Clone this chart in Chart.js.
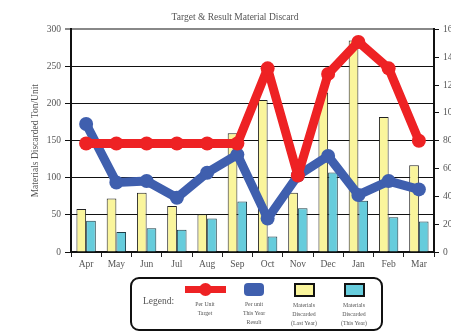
<!DOCTYPE html>
<html>
<head>
<meta charset="utf-8">
<script src="https://cdn.jsdelivr.net/npm/chart.js@4/dist/chart.umd.min.js"></script>
<style>
  body { margin: 0; overflow: hidden; background: #fff; }
  #wrap { position: relative; width: 451px; height: 335px; overflow: hidden; }
  #chart { position: absolute; left: 0; top: 0; }
  #legend {
    position: absolute; left: 130px; top: 277px; width: 249px; height: 50px;
    border: 2px solid #111; border-radius: 9px;
    font-family: "Liberation Serif", serif; color: #555;
  }
  #legend .lbl { position: absolute; left: 11px; top: 17px; font-size: 9.5px; }
  .item { position: absolute; top: 4px; width: 50px; text-align: center; font-size: 5.8px; line-height: 9px; }
  .item .txt { margin-top: 4px; }
  .sw { margin: 0 auto; }
</style>
</head>
<body>
<div id="wrap">
  <canvas id="chart"></canvas>
  <div id="legend">
    <span class="lbl">Legend:</span>
    <div class="item" style="left:48px">
      <div class="sw" style="position:relative;width:41px;height:13px">
        <div style="position:absolute;left:0;top:3px;width:41px;height:7px;background:#ee2224"></div>
        <div style="position:absolute;left:14px;top:0;width:13px;height:13px;border-radius:50%;background:#ee2224"></div>
      </div>
      <div class="txt">Per Unit<br>Target</div>
    </div>
    <div class="item" style="left:97px">
      <div class="sw" style="width:20px;height:13px;border-radius:4px;background:#3f5fae"></div>
      <div class="txt">Per unit<br>This Year<br>Result</div>
    </div>
    <div class="item" style="left:147px">
      <div class="sw" style="width:17px;height:10px;border:2px solid #111;background:#faf59c"></div>
      <div class="txt">Materials<br>Discarded<br>(Last Year)</div>
    </div>
    <div class="item" style="left:197px">
      <div class="sw" style="width:17px;height:10px;border:2px solid #111;background:#66ccdc"></div>
      <div class="txt">Materials<br>Discarded<br>(This Year)</div>
    </div>
  </div>
</div>
<script>
const months = ["Apr", "May", "Jun", "Jul", "Aug", "Sep", "Oct", "Nov", "Dec", "Jan", "Feb", "Mar"];
const discardedLastYear = [58, 72, 80, 62, 51, 160, 205, 80, 215, 285, 182, 117];
const discardedThisYear = [42, 27, 32, 30, 45, 68, 21, 59, 107, 69, 47, 41];
const perUnitTarget = [78, 78, 78, 78, 78, 78, 132, 55, 128, 151, 132, 80];
const perUnitResult = [92, 50, 51, 39, 57, 70, 24, 55, 69, 41, 51, 45];

Chart.defaults.font.family = "'Liberation Serif', serif";
Chart.defaults.color = "#555";

const canvas = document.getElementById("chart");
canvas.width = 470;
canvas.height = 335;

// both lines share the same look, only colour changes
const lineStyle = (color) => ({
  type: "line",
  yAxisID: "y2",
  borderColor: color,
  backgroundColor: color,
  borderWidth: 9,
  borderJoinStyle: "round",
  borderCapStyle: "round",
  pointRadius: 7,
  pointBorderWidth: 0,
  tension: 0,
});

new Chart(canvas, {
  type: "bar",
  data: {
    labels: months,
    datasets: [
      { ...lineStyle("#ee2224"), label: "Per Unit Target", data: perUnitTarget, order: 0 },
      { ...lineStyle("#3f5fae"), label: "Per unit This Year Result", data: perUnitResult, order: 1 },
      {
        label: "Materials Discarded (Last Year)",
        data: discardedLastYear,
        yAxisID: "y",
        backgroundColor: "#faf59c",
        borderColor: "#222",
        borderWidth: 1,
        categoryPercentage: 0.64,
        barPercentage: 1,
        order: 2,
      },
      {
        label: "Materials Discarded (This Year)",
        data: discardedThisYear,
        yAxisID: "y",
        backgroundColor: "#66ccdc",
        borderColor: "#1d3f48",
        borderWidth: 1,
        categoryPercentage: 0.64,
        barPercentage: 1,
        order: 3,
      },
    ],
  },
  options: {
    responsive: false,
    animation: false,
    layout: { padding: 0 },
    plugins: {
      legend: { display: false },
      tooltip: { enabled: false },
      title: {
        display: true,
        text: "Target & Result Material Discard",
        font: { size: 9.5, weight: "normal" },
        color: "#555",
        padding: { top: 12, bottom: 6 },
      },
    },
    scales: {
      x: {
        grid: { drawOnChartArea: false, offset: true, tickLength: 5, color: "#222" },
        border: { color: "#111", width: 2 },
        ticks: { font: { size: 9.5 }, padding: 2, color: "#555" },
        afterFit: (scale) => { scale.height = 83; },
      },
      y: {
        position: "left",
        min: 0,
        max: 300,
        ticks: { stepSize: 50, font: { size: 9.5 }, padding: 4, color: "#555" },
        grid: {
          color: (ctx) => (ctx.tick && ctx.tick.value === 300 ? "#888" : "#111"),
          lineWidth: (ctx) => (ctx.tick && ctx.tick.value === 300 ? 2 : 1),
          tickLength: 6,
        },
        border: { color: "#111", width: 2 },
        title: {
          display: true,
          text: "Materials Discarded Ton/Unit",
          font: { size: 9.5 },
          color: "#555",
          padding: { top: 30, bottom: 0 },
        },
        afterFit: (scale) => { scale.width = 71; },
      },
      y2: {
        position: "right",
        min: 0,
        max: 160,
        ticks: { stepSize: 20, font: { size: 9.5 }, padding: 4, color: "#555" },
        grid: { drawOnChartArea: false, tickLength: 5, color: "#111" },
        border: { color: "#111", width: 2 },
        afterFit: (scale) => { scale.width = 36; },
      },
    },
  },
});
</script>
</body>
</html>
